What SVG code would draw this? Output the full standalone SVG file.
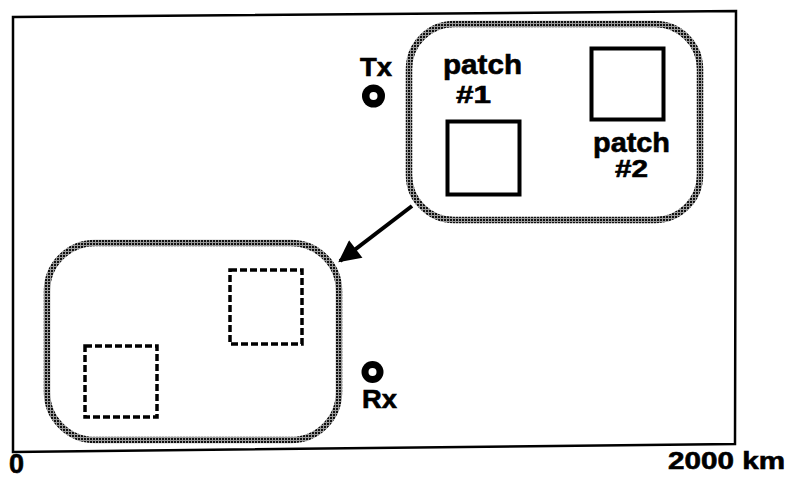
<svg xmlns="http://www.w3.org/2000/svg" width="789" height="479" viewBox="0 0 789 479">
  <defs>
    <pattern id="hatch" width="3" height="3" patternUnits="userSpaceOnUse">
      <rect width="3" height="3" fill="#9a9a9a"/>
      <rect width="2" height="2" fill="#111111"/>
    </pattern>
    <marker id="arrow" viewBox="0 0 10 10" refX="9" refY="5" markerWidth="6" markerHeight="5.5" markerUnits="strokeWidth" orient="auto">
      <path d="M0,0 L10,5 L0,10 Z" fill="#000"/>
    </marker>
  </defs>
  <style>
    .lbl { font-family: "Liberation Sans", Arial, sans-serif; font-weight: bold; fill: #000; stroke: #000; stroke-width: 0.6; }
    .region { fill: none; stroke: url(#hatch); stroke-width: 6.5; }
    .patch { fill: none; stroke: #000; stroke-width: 4; }
    .ghost { fill: none; stroke: #000; stroke-width: 3.5; stroke-dasharray: 7 3; }
    .dot { fill: #000; }
    .hole { fill: #fff; }
  </style>
  <rect width="789" height="479" fill="#fff"/>

  <g id="frame">
    <polygon points="13,17 736,11 735,444 13,452" fill="none" stroke="#000" stroke-width="2.5"/>
    <text class="lbl" x="9" y="473" font-size="27">0</text>
    <text class="lbl" x="668" y="469" font-size="24" textLength="117" lengthAdjust="spacingAndGlyphs">2000 km</text>
  </g>

  <g id="region-current">
    <rect class="region" x="409" y="24" width="291" height="196" rx="45" ry="45"/>
  </g>

  <g id="region-shifted">
    <rect class="region" x="47" y="243" width="292" height="197" rx="48" ry="48"/>
  </g>

  <g id="patch1">
    <rect class="patch" x="447.5" y="121.5" width="72" height="73"/>
    <text class="lbl" x="443" y="74" font-size="28" textLength="79" lengthAdjust="spacingAndGlyphs">patch</text>
    <text class="lbl" x="456" y="103" font-size="23" textLength="35" lengthAdjust="spacingAndGlyphs">#1</text>
  </g>

  <g id="patch2">
    <rect class="patch" x="591.5" y="48.5" width="72" height="71"/>
    <text class="lbl" x="593" y="152" font-size="28" textLength="77" lengthAdjust="spacingAndGlyphs">patch</text>
    <text class="lbl" x="615" y="177" font-size="23" textLength="33" lengthAdjust="spacingAndGlyphs">#2</text>
  </g>

  <g id="patch1-shifted">
    <rect class="ghost" x="85" y="346" width="72" height="71"/>
  </g>

  <g id="patch2-shifted">
    <rect class="ghost" x="230" y="270" width="72" height="74"/>
  </g>

  <g id="tx">
    <circle class="dot" cx="373.5" cy="96" r="11.5"/>
    <circle class="hole" cx="373.5" cy="96" r="4"/>
    <text class="lbl" x="360" y="76" font-size="25" textLength="32" lengthAdjust="spacingAndGlyphs">Tx</text>
  </g>

  <g id="rx">
    <circle class="dot" cx="372.5" cy="372" r="11"/>
    <circle class="hole" cx="372.5" cy="372" r="4"/>
    <text class="lbl" x="362" y="408" font-size="25" textLength="35" lengthAdjust="spacingAndGlyphs">Rx</text>
  </g>

  <g id="connectors">
    <line x1="412" y1="206" x2="340" y2="261" stroke="#000" stroke-width="4" marker-end="url(#arrow)"/>
  </g>
</svg>
